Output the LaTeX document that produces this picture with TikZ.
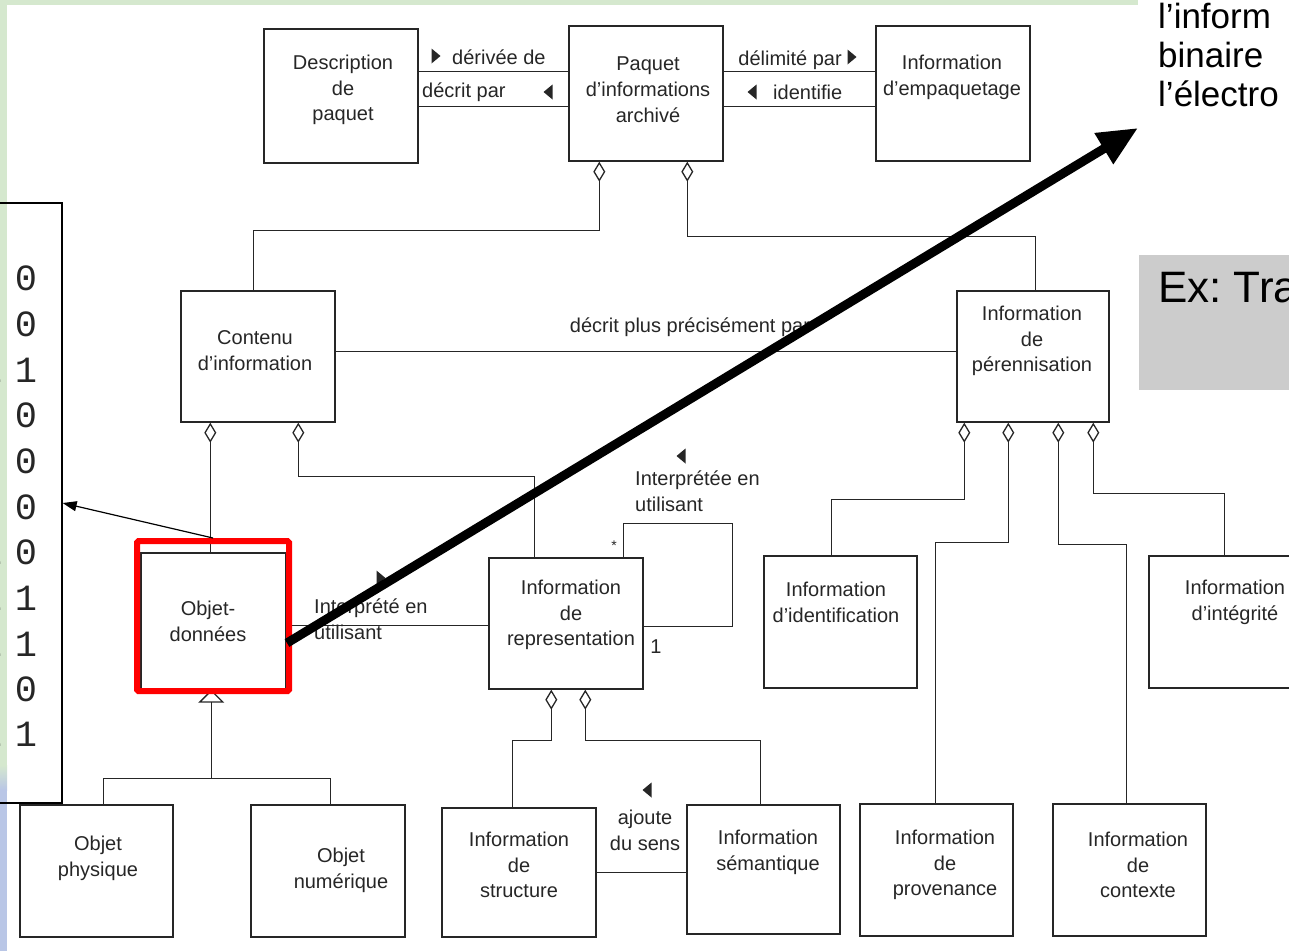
\documentclass[tikz,border=0pt]{standalone}
\usepackage{fontspec}
\setmainfont{Liberation Sans}
\newfontfamily\bitfont{Liberation Mono}
\usepackage{tikz}
\usetikzlibrary{positioning, arrows.meta, shapes}

\definecolor{bggreen}{HTML}{D5E8CE}
\definecolor{bgblue}{HTML}{B9C6E6}
\definecolor{exgray}{HTML}{CCCCCC}
\definecolor{inkgray}{HTML}{262626}

\tikzset{
  box/.style 2 args={draw=inkgray, line width=1.4pt, minimum width=#1, minimum height=#2, inner sep=0pt},
  txt/.style={font=\fontsize{20}{25.8}\selectfont, text=inkgray, align=center, inner sep=0pt},
  lbl/.style={txt, align=left},
  link/.style={draw=inkgray, line width=1.3pt},
  agg/.style={link, {Diamond[open, length=20pt, width=12pt]}-},
  gen/.style={link, {Triangle[open, length=13pt, width=26pt]}-},
  hilite/.style={draw=red, line width=6pt, rounded corners=1.5pt, minimum width=152pt, minimum height=150pt},
  ptr/.style={line width=1.2pt, -{Triangle[length=14pt, width=10pt]}},
  bigarrow/.style={line width=9pt, -{Triangle[length=40pt, width=34pt]}},
  bit/.style={font=\bitfont\fontsize{37}{37}\selectfont, text=black!85, inner sep=0pt},
  big/.style={font=\fontsize{35}{39}\selectfont, inner sep=0pt},
  tri/.pic={\fill[inkgray] (-4.5,-7.5) -- (4.5,0) -- (-4.5,7.5) -- cycle;}
}

\begin{document}
\frenchspacing
\begin{tikzpicture}[x=1pt, y=-1pt]

	\useasboundingbox (0,0) rectangle (1289,951);

	% slide background
	\fill[bggreen] (0,0) rectangle (1138,5);
	\fill[bggreen] (0,0) rectangle (7,765);
	\shade[top color=bggreen, bottom color=bgblue] (0,765) rectangle (7,790);
	\fill[bgblue] (0,790) rectangle (7,951);

	% binary data
	\node[draw, line width=1.3pt, minimum width=82pt, minimum height=600pt] (bits) at (21,503) {};
	\foreach \y/\a/\b [count=\i] in {278/0/0, 324/0/0, 370/1/1, 415/0/0, 461/0/0, 507/0/0, 552/1/0, 598/1/1, 644/1/1, 689/0/0, 734/1/1}
	{
		\node[bit] (bit-\i-1) at (-9,\y) {\a};
		\node[bit] (bit-\i-2) at (26,\y) {\b};
	}

	% boxes
	\node[box={154pt}{134pt}] (desc) at (341,96) {};
	\node[box={154pt}{135pt}] (paquet) at (646,93.5) {};
	\node[box={154pt}{135pt}] (empaq) at (953,93.5) {};
	\node[box={154pt}{131pt}] (contenu) at (258,356.5) {};
	\node[box={152pt}{131pt}] (perenn) at (1033,356.5) {};
	\node[box={145pt}{136pt}] (objet) at (213.5,621) {};
	\node[box={154pt}{131pt}] (repres) at (566,623.5) {};
	\node[box={153pt}{132pt}] (ident) at (840.5,622) {};
	\node[box={160pt}{132pt}] (integ) at (1229,622) {};
	\node[box={153pt}{132pt}] (phys) at (96.5,871) {};
	\node[box={154pt}{132pt}] (numer) at (328,871) {};
	\node[box={154pt}{129pt}] (struct) at (519,872.5) {};
	\node[box={153pt}{129pt}] (seman) at (763.5,869.5) {};
	\node[box={153pt}{132pt}] (proven) at (936.5,870) {};
	\node[box={153pt}{132pt}] (contexte) at (1129.5,870) {};

	\node[txt] (desc-t) at (343,90) {Description\\de\\paquet};
	\node[txt] (paquet-t) at (648,90) {Paquet\\d’informations\\archivé};
	\node[txt] (empaq-t) at (952,77) {Information\\d’empaquetage};
	\node[txt] (contenu-t) at (255,351) {Contenu\\d’information};
	\node[txt] (perenn-t) at (1032,341) {Information\\de\\pérennisation};
	\node[txt] (objet-t) at (208,621) {Objet-\\données};
	\node[txt] (repres-t) at (571,615) {Information\\de\\representation};
	\node[txt] (ident-t) at (836,602) {Information\\d’identification};
	\node[txt] (integ-t) at (1235,602) {Information\\d’intégrité};
	\node[txt] (phys-t) at (98,858) {Objet\\physique};
	\node[txt] (numer-t) at (341,870) {Objet\\numérique};
	\node[txt] (struct-t) at (519,865) {Information\\de\\structure};
	\node[txt] (seman-t) at (768,852) {Information\\sémantique};
	\node[txt] (proven-t) at (945,865) {Information\\de\\provenance};
	\node[txt] (contexte-t) at (1138,865) {Information\\de\\contexte};

	% associations
	\draw[link] ([yshift=-43pt]desc.north east) -- ([yshift=-46pt]paquet.north west);
	\draw[link] ([yshift=-78pt]desc.north east) -- ([yshift=-81pt]paquet.north west);
	\draw[link] ([yshift=-46pt]paquet.north east) -- ([yshift=-46pt]empaq.north west);
	\draw[link] ([yshift=-81pt]paquet.north east) -- ([yshift=-81pt]empaq.north west);
	\draw[link] ([yshift=-61pt]contenu.north east) -- ([yshift=-61pt]perenn.north west);
	\draw[link] ([yshift=-73pt]objet.north east) -- ([yshift=-68pt]repres.north west);
	\draw[link] ([yshift=-65pt]struct.north east) -- ([yshift=-68pt]seman.north west);
	\draw[link] ([xshift=135pt]repres.north west) |- ++(109,-34) |- ([yshift=-69pt]repres.north east);

	% aggregations
	\draw[agg] ([xshift=31pt]paquet.south west) -- ++(0,69) -| ([xshift=73pt]contenu.north west);
	\draw[agg] ([xshift=119pt]paquet.south west) -- ++(0,75) -| ([xshift=79pt]perenn.north west);
	\draw[agg] ([xshift=30pt]contenu.south west) -- ([xshift=70pt]objet.north west);
	\draw[agg] ([xshift=118pt]contenu.south west) -- ++(0,54) -| ([xshift=46pt]repres.north west);
	\draw[agg] ([xshift=63pt]repres.south west) -- ++(0,51) -| ([xshift=71pt]struct.north west);
	\draw[agg] ([xshift=97pt]repres.south west) -- ++(0,51) -| ([xshift=74pt]seman.north west);
	\draw[agg] ([xshift=8pt]perenn.south west) -- ++(0,77) -| ([xshift=68pt]ident.north west);
	\draw[agg] ([xshift=52pt]perenn.south west) -- ++(0,120) -| ([xshift=76pt]proven.north west);
	\draw[agg] ([xshift=102pt]perenn.south west) -- ++(0,122) -| ([xshift=74pt]contexte.north west);
	\draw[agg] ([xshift=137pt]perenn.south west) -- ++(0,71) -| ([xshift=76pt]integ.north west);

	% generalisation
	\draw[gen] ([xshift=71pt]objet.south west) -- ++(0,89) coordinate (fork);
	\draw[link] (fork) -| ([xshift=84pt]phys.north west);
	\draw[link] (fork) -| ([xshift=80pt]numer.north west);

	% association labels
	\pic at (436,56) {tri};
	\node[lbl, anchor=west] (derive) at (452,57) {dérivée de};
	\pic[rotate=180] at (548,92) {tri};
	\node[lbl, anchor=west] (decrit) at (422,92) {décrit par};
	\pic at (852,57) {tri};
	\node[lbl, anchor=east] (delimite) at (842,60) {délimité par};
	\pic[rotate=180] at (752,92) {tri};
	\node[lbl, anchor=west] (identifie) at (773,92) {identifie};
	\node[txt] (precise) at (690,327) {décrit plus précisément par};
	\pic at (381,578) {tri};
	\node[lbl, anchor=west] (interprete) at (314,619) {Interprété en\\utilisant};
	\pic[rotate=180] at (681,456) {tri};
	\node[lbl, anchor=west] (interpretee) at (635,491) {Interprétée en\\utilisant};
	\node[txt, font=\fontsize{14}{14}\selectfont] (many) at (614,546) {*};
	\node[txt] (one) at (656,647) {1};
	\pic[rotate=180] at (647,790) {tri};
	\node[txt] (sens) at (645,830) {ajoute\\du sens};

	% highlight and pointers
	\node[hilite] (sel) at (213,616) {};
	\draw[ptr] (sel.north) -- (bits.east);

	\node[fill=exgray, anchor=north west, minimum width=170pt, minimum height=135pt, inner sep=0pt] (exbox) at (1139,255) {};
	\node[big, font=\fontsize{44}{44}\selectfont, anchor=base west] (ex-t) at (1158,302) {Ex: Tra};
	\foreach \y/\t [count=\i] in {28/l’inform, 67/binaire, 106/l’électro}
		\node[big, anchor=base west] (note-\i) at (1158,\y) {\t};

	\coordinate (tip) at (1138,128);
	\draw[bigarrow] ([xshift=-5pt, yshift=-27pt]sel.east) -- (tip);

\end{tikzpicture}
\end{document}
